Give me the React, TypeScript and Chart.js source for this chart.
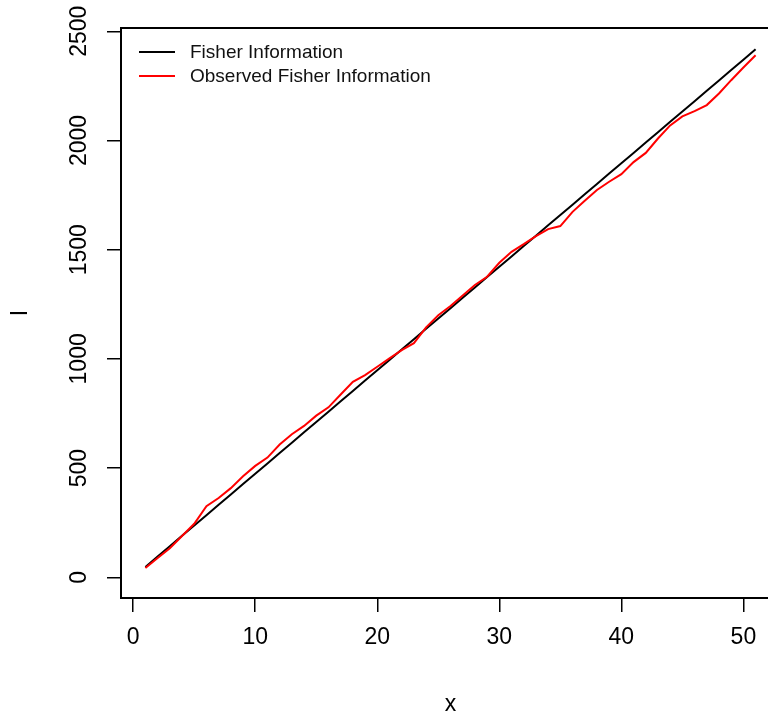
import React, { useEffect, useRef } from "react";
import { Chart, registerables } from "chart.js";

Chart.register(...registerables);

const xValues = [
  1, 2, 3, 4, 5, 6, 7, 8, 9, 10, 11, 12, 13, 14, 15, 16, 17, 18, 19, 20, 21, 22, 23, 24, 25, 26,
  27, 28, 29, 30, 31, 32, 33, 34, 35, 36, 37, 38, 39, 40, 41, 42, 43, 44, 45, 46, 47, 48, 49, 50, 51,
];
const fisherInfo = [
  47, 95, 142, 190, 237, 284, 332, 379, 427, 474, 521, 569, 616, 664, 711, 758, 806, 853, 901, 948,
  995, 1043, 1090, 1138, 1185, 1232, 1280, 1327, 1375, 1422, 1469, 1517, 1564, 1612, 1659, 1706,
  1754, 1801, 1849, 1896, 1943, 1991, 2038, 2086, 2133, 2180, 2228, 2275, 2323, 2370, 2418,
];
const observedInfo = [
  42, 88, 133, 189, 245, 325, 363, 408, 462, 510, 548, 608, 655, 693, 740, 778, 837, 895, 926, 964,
  1002, 1040, 1072, 1144, 1200, 1242, 1290, 1338, 1376, 1440, 1490, 1525, 1562, 1594, 1608, 1673,
  1724, 1773, 1811, 1846, 1901, 1943, 2009, 2069, 2110, 2134, 2162, 2215, 2276, 2334, 2390,
];
const xTicks = [0, 10, 20, 30, 40, 50];
const yTicks = [0, 500, 1000, 1500, 2000, 2500];
const seriesLabels = ["Fisher Information", "Observed Fisher Information"];
const seriesColors = ["#000000", "#ff0000"];
const xTitle = "x";
const yTitle = "I";

const FONT = 'Arial, "Liberation Sans", sans-serif';

const rPlugin = {
  id: "rStyle",
  afterDraw(chart: any) {
    const ctx = chart.ctx;
    const area = chart.chartArea;
    ctx.save();
    // box
    ctx.strokeStyle = "#000";
    ctx.lineWidth = 2;
    ctx.strokeRect(area.left, area.top, area.right - area.left, area.bottom - area.top);
    // rotated y tick labels
    const ys = chart.scales.y;
    ctx.fillStyle = "#000";
    ctx.font = `23px ${FONT}`;
    ctx.textAlign = "center";
    ctx.textBaseline = "middle";
    yTicks.forEach((v) => {
      const py = ys.getPixelForValue(v);
      ctx.save();
      ctx.translate(80, py);
      ctx.rotate(-Math.PI / 2);
      ctx.fillText(String(v), 0, 0);
      ctx.restore();
    });
    // legend
    ctx.font = `19px ${FONT}`;
    ctx.textAlign = "left";
    chart.data.datasets.forEach((ds: any, i: number) => {
      const ly = area.top + 24 + i * 24;
      ctx.strokeStyle = ds.borderColor;
      ctx.lineWidth = 2;
      ctx.beginPath();
      ctx.moveTo(area.left + 18, ly);
      ctx.lineTo(area.left + 54, ly);
      ctx.stroke();
      ctx.fillStyle = "#111";
      ctx.fillText(ds.label, area.left + 69, ly + 1);
    });
    ctx.restore();
  },
};

export default function App() {
  const ref = useRef<HTMLCanvasElement | null>(null);
  useEffect(() => {
    if (!ref.current) return;
    const chart = new Chart(ref.current, {
      type: "line",
      data: {
        datasets: [
          {
            label: seriesLabels[0],
            data: xValues.map((x, i) => ({ x, y: fisherInfo[i] })),
            borderColor: seriesColors[0],
            borderWidth: 2,
            pointRadius: 0,
            tension: 0,
            order: 1,
          },
          {
            label: seriesLabels[1],
            data: xValues.map((x, i) => ({ x, y: observedInfo[i] })),
            borderColor: seriesColors[1],
            borderWidth: 2,
            pointRadius: 0,
            tension: 0,
            order: 0,
          },
        ],
      },
      options: {
        animation: false,
        responsive: false,
        devicePixelRatio: 1,
        layout: { padding: { top: 28, right: 20, left: 0, bottom: 0 } },
        plugins: { legend: { display: false }, tooltip: { enabled: false } },
        scales: {
          x: {
            type: "linear",
            min: -1,
            max: 53,
            afterBuildTicks: (s: any) => {
              s.ticks = xTicks.map((v) => ({ value: v }));
            },
            afterFit: (s: any) => {
              s.height = 119;
            },
            ticks: {
              font: { family: FONT, size: 23 },
              color: "#000",
              padding: 12,
              maxRotation: 0,
              autoSkip: false,
            },
            grid: {
              display: true,
              drawOnChartArea: false,
              drawTicks: true,
              tickLength: 14,
              color: "#000",
              lineWidth: 1.5,
            },
            border: { display: false },
            title: {
              display: true,
              text: xTitle,
              color: "#000",
              font: { family: FONT, size: 23, lineHeight: 1 },
              padding: { top: 0, bottom: 1 },
            },
          },
          y: {
            type: "linear",
            min: -95,
            max: 2515,
            afterBuildTicks: (s: any) => {
              s.ticks = yTicks.map((v) => ({ value: v }));
            },
            afterFit: (s: any) => {
              s.width = 121;
            },
            ticks: { display: false },
            grid: {
              display: true,
              drawOnChartArea: false,
              drawTicks: true,
              tickLength: 14,
              color: "#000",
              lineWidth: 1.5,
            },
            border: { display: false },
            title: {
              display: true,
              text: yTitle,
              color: "#000",
              font: { family: FONT, size: 23, lineHeight: 1 },
              padding: { top: 9, bottom: 0 },
            },
          },
        },
      },
      plugins: [rPlugin],
    });
    return () => chart.destroy();
  }, []);
  return (
    <div style={{ position: "absolute", left: 0, top: 0, width: 768, height: 717, overflow: "hidden", background: "#fff" }}>
      <canvas ref={ref} width={800} height={717} style={{ display: "block" }} />
    </div>
  );
}
